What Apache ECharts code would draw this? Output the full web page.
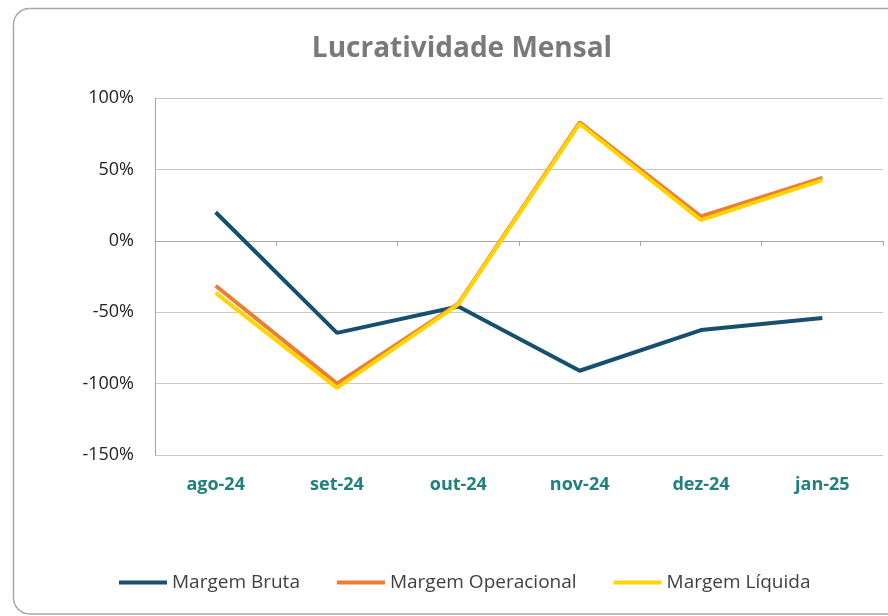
<!DOCTYPE html>
<html>
<head>
<meta charset="utf-8">
<script src="https://cdn.jsdelivr.net/npm/echarts@6/dist/echarts.min.js"></script>
<style>
  html, body { margin: 0; padding: 0; background: #fff; }
  #chart { width: 888px; height: 616px; }
</style>
</head>
<body>
<div id="chart"></div>
<script>
// dados (em %)
const meses = ["ago-24", "set-24", "out-24", "nov-24", "dez-24", "jan-25"];
const margemBruta = [20, -64.5, -46, -91, -62.5, -54];
const margemOperacional = [-31.5, -100, -44, 83, 17, 44];
const margemLiquida = [-36.5, -103, -44.5, 82, 14.5, 42.5];

const fonte = "'Open Sans', 'Noto Sans', sans-serif";

const chart = echarts.init(document.getElementById("chart"));

// moldura arredondada (esquerda, topo e base)
const bordaStyle = { fill: null, stroke: "#a6a6a6", lineWidth: 1.5 };
const moldura = [
  { type: "polyline", shape: { points: [[900, 8.5], [29.5, 8.5]] }, style: bordaStyle },
  { type: "arc", shape: { cx: 29.5, cy: 24.5, r: 16, startAngle: Math.PI, endAngle: Math.PI * 1.5, clockwise: true }, style: bordaStyle },
  { type: "polyline", shape: { points: [[13.5, 24.5], [13.5, 598]] }, style: bordaStyle },
  { type: "arc", shape: { cx: 29.5, cy: 598, r: 16, startAngle: Math.PI * 0.5, endAngle: Math.PI, clockwise: true }, style: bordaStyle },
  { type: "polyline", shape: { points: [[29.5, 614], [900, 614]] }, style: bordaStyle },
].map((g) => Object.assign(g, { silent: true, z: -1 }));

const option = {
  animation: false,
  backgroundColor: "#fff",
  graphic: moldura,
  title: {
    text: "Lucratividade Mensal",
    left: 457,
    textAlign: "center",
    top: 30,
    textStyle: {
      fontFamily: fonte,
      fontSize: 28,
      fontWeight: "bold",
      color: "#7a7a7a",
    },
  },
  legend: {
    left: 114,
    top: 568,
    icon: "rect",
    itemWidth: 48,
    itemHeight: 4,
    itemGap: 37,
    textStyle: {
      fontFamily: fonte,
      fontSize: 19,
      color: "#404040",
    },
    data: ["Margem Bruta", "Margem Operacional", "Margem Líquida"],
  },
  grid: {
    left: 155,
    right: 5,
    top: 98,
    bottom: 161,
  },
  xAxis: [
    {
      type: "category",
      data: meses,
      position: "bottom",
      boundaryGap: true,
      axisLine: { show: false, onZero: false },
      axisTick: { show: false },
      axisLabel: {
        margin: 21,
        fontFamily: fonte,
        fontSize: 18,
        fontWeight: "bold",
        color: "#1f8080",
      },
    },
    {
      type: "category",
      data: meses,
      position: "top",
      boundaryGap: true,
      axisLine: { onZero: true, lineStyle: { color: "#a6a6a6", width: 1 } },
      axisTick: { show: true, inside: true, length: 5, lineStyle: { color: "#a6a6a6" } },
      axisLabel: { show: false },
    },
  ],
  yAxis: {
    type: "value",
    min: -150,
    max: 100,
    interval: 50,
    axisLine: { show: true, lineStyle: { color: "#a6a6a6" } },
    axisTick: { show: false },
    splitLine: { lineStyle: { color: "#c8c8c8", width: 1 } },
    axisLabel: {
      formatter: "{value}%",
      margin: 21,
      fontFamily: fonte,
      fontSize: 18,
      color: "#222",
    },
  },
  series: [
    {
      name: "Margem Bruta",
      type: "line",
      data: margemBruta,
      symbol: "none",
      lineStyle: { width: 4, color: "#174f6e" },
      itemStyle: { color: "#174f6e" },
    },
    {
      name: "Margem Operacional",
      type: "line",
      data: margemOperacional,
      symbol: "none",
      lineStyle: { width: 4, color: "#ed7d31" },
      itemStyle: { color: "#ed7d31" },
    },
    {
      name: "Margem Líquida",
      type: "line",
      data: margemLiquida,
      symbol: "none",
      lineStyle: { width: 4, color: "#ffd400" },
      itemStyle: { color: "#ffd400" },
    },
  ],
};

chart.setOption(option);
</script>
</body>
</html>
